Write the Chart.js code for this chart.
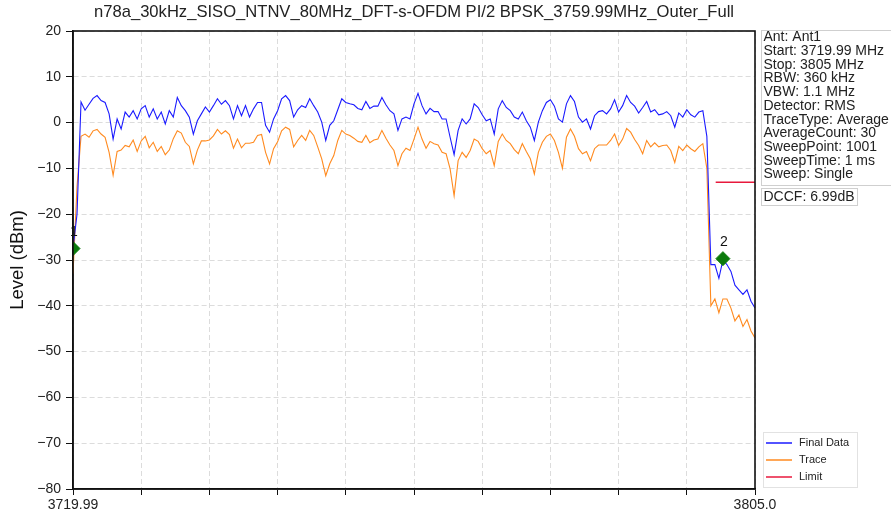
<!DOCTYPE html>
<html>
<head>
<meta charset="utf-8">
<script src="https://cdn.jsdelivr.net/npm/chart.js@4.4.1/dist/chart.umd.min.js"></script>
<style>
  body { margin: 0; background: #fff; }
  canvas { display: block; }
</style>
</head>
<body>
<canvas id="myChart" width="891" height="517"></canvas>
<script>
// sweep settings (MHz)
const freqStart = 3719.99;
const freqStop = 3805.0;

// level readings (dBm), evenly spaced across the sweep
const finalData = [
  -27.5, -20, 4.5, 2.7, 4.0, 5.3, 5.9, 4.8, 4.4, 1.9,
  -3.6, 0.8, -1.4, 2.3, 1.2, 2.6, 0.8, 3.0, 3.7, 1.2,
  3.0, 0.8, 2.3, -0.3, 2.6, 1.2, 5.5, 3.7, 2.6, 1.2,
  -2.5, 0.4, 1.9, 3.4, 2.3, 3.7, 5.2, 4.0, 4.8, 3.7,
  0.8, 3.7, 1.5, 3.7, 1.2, 3.0, 4.4, 4.4, -0.6, -2.1,
  0.8, 2.6, 5.2, 5.9, 4.8, 1.2, 2.8, 3.7, 3.3, 5.2,
  3.7, 2.3, 0.1, -3.9, -0.6, 0.4, 2.8, 5.2, 4.4, 4.1,
  3.9, 3.1, 2.8, 4.6, 3.1, 3.6, 3.6, 5.5, 3.9, 2.6,
  1.9, -1.7, 0.8, 1.2, 0.8, 4.1, 6.4, 3.7, 1.9, 3.1,
  2.4, 2.4, 0.8, 0.8, -3.2, -7.0, -1.7, 0.8, -0.3, 0.8,
  4.1, 3.3, 1.7, 0.4, 0.8, -2.5, 3.0, 4.8, 3.3, 2.6,
  1.2, 0.8, 2.3, 0.4, -1.0, -3.9, 0.1, 2.6, 4.4, 5.0,
  3.6, 0.8, 0.1, 4.1, 5.9, 4.6, 1.2, 0.1, 0.8, -1.4,
  1.5, 2.4, 2.6, 1.9, 3.0, 5.0, 2.3, 3.7, 5.9, 4.4,
  3.6, 2.1, 3.3, 4.6, 2.3, 2.8, 1.7, 1.9, 2.4, 1.5,
  -1.0, 2.1, 1.2, 2.8, 1.7, 1.2, 2.3, 2.6, -3, -31,
  -31, -34, -30, -31, -32.5, -35.5, -36.5, -37.5, -36.5, -39,
  -40.5
];

const traceData = [
  -33, -14, -3.0, -2.5, -3.2, -1.8, -1.5, -2.5, -3.2, -6.5,
  -11.5, -6.3, -6.0, -5.0, -5.3, -3.8, -6.3, -4.0, -3.0, -5.5,
  -4.3, -6.3, -5.2, -7.0, -6.0, -3.5, -1.8, -2.3, -4.3, -5.2,
  -9.0, -6.0, -4.0, -4.0, -3.8, -2.9, -1.5, -2.5, -1.8, -2.6,
  -5.6, -3.6, -5.5, -4.5, -4.5, -4.3, -2.8, -2.6, -6.5, -9.0,
  -5.7, -4.2, -1.8, -1.0, -1.5, -5.3, -3.9, -2.8, -3.9, -1.7,
  -2.8, -5.3, -7.9, -11.6, -9.0, -7.2, -3.9, -1.7, -2.5, -2.8,
  -3.4, -4.1, -4.3, -2.8, -4.4, -3.8, -3.6, -1.7, -3.4, -4.9,
  -6.1, -9.4, -6.8, -5.6, -6.1, -3.6, -1.0, -3.6, -5.6, -4.1,
  -4.6, -4.9, -6.5, -6.8, -10.1, -16.0, -8.3, -6.5, -7.6, -6.1,
  -3.6, -4.1, -5.7, -6.8, -6.1, -9.4, -4.1, -2.5, -3.9, -4.6,
  -5.9, -6.8, -4.6, -6.3, -7.9, -11.2, -6.5, -4.3, -3.0, -2.5,
  -3.9, -6.5, -10.0, -3.2, -1.4, -3.0, -5.7, -6.8, -6.3, -8.3,
  -5.7, -4.9, -4.9, -4.9, -3.9, -2.5, -5.0, -3.6, -1.3, -2.1,
  -3.7, -5.0, -6.8, -3.9, -5.3, -4.4, -5.3, -5.0, -4.9, -6.1,
  -8.7, -5.2, -6.1, -4.9, -5.7, -6.3, -5.3, -4.6, -10, -40,
  -38.5, -41.5, -38.5, -38.5, -40.5, -43.3, -42, -44.5, -43, -45.5,
  -47
];

const limitFreqs = [3800.1, 3805.0];
const limitLevels = [-13, -13];

const markerNames = ['1', '2'];
const markerFreqs = [3719.99, 3801.0];
const markerLevels = [-27.5, -29.7];

const yTicks = [-80, -70, -60, -50, -40, -30, -20, -10, 0, 10, 20];

const infoLines = [
  'Ant: Ant1',
  'Start: 3719.99 MHz',
  'Stop: 3805 MHz',
  'RBW: 360 kHz',
  'VBW: 1.1 MHz',
  'Detector: RMS',
  'TraceType: Average',
  'AverageCount: 30',
  'SweepPoint: 1001',
  'SweepTime: 1 ms',
  'Sweep: Single'
];
const dccfText = 'DCCF: 6.99dB';
const titleText = 'n78a_30kHz_SISO_NTNV_80MHz_DFT-s-OFDM PI/2 BPSK_3759.99MHz_Outer_Full';

const FONT = 'Liberation Sans, Arial, sans-serif';
const BLUE = '#1a1aff';
const ORANGE = '#ff8a1f';
const RED = '#e8193c';
const GREEN = '#0b7a0b';

const step = (freqStop - freqStart) / (finalData.length - 1);
const toPoints = arr => arr.map((v, i) => ({ x: freqStart + i * step, y: v }));

const legendItems = [
  { label: 'Final Data', color: BLUE },
  { label: 'Trace', color: ORANGE },
  { label: 'Limit', color: RED }
];

const extras = {
  id: 'extras',
  afterDraw(chart) {
    const ctx = chart.ctx;
    const a = chart.chartArea;
    ctx.save();

    // frame
    ctx.strokeStyle = '#111';
    ctx.lineWidth = 1.6;
    ctx.strokeRect(a.left, a.top, a.right - a.left, a.bottom - a.top);

    // title
    ctx.fillStyle = '#222';
    ctx.font = '16.6px ' + FONT;
    ctx.textAlign = 'center';
    ctx.textBaseline = 'middle';
    ctx.fillText(titleText, (a.left + a.right) / 2, 12);

    // marker labels
    const xs = chart.scales.x, ys = chart.scales.y;
    ctx.font = '14px ' + FONT;
    ctx.fillStyle = '#111';
    markerNames.forEach((n, i) => {
      const px = xs.getPixelForValue(markerFreqs[i]);
      const py = ys.getPixelForValue(markerLevels[i]);
      ctx.fillText(n, px + 1, py - 16);
    });

    // info box
    ctx.textAlign = 'left';
    ctx.textBaseline = 'middle';
    ctx.font = '14px ' + FONT;
    ctx.strokeStyle = '#cfcfcf';
    ctx.lineWidth = 1;
    ctx.fillStyle = '#fff';
    ctx.fillRect(761.5, 30.5, 135, 155);
    ctx.strokeRect(761.5, 30.5, 135, 155);
    ctx.fillStyle = '#222';
    infoLines.forEach((t, i) => ctx.fillText(t, 763.5, 37.5 + i * 13.7));

    // DCCF box
    const w = ctx.measureText(dccfText).width;
    ctx.strokeRect(761.5, 188.5, w + 5, 17);
    ctx.fillText(dccfText, 763.5, 197.5);

    // legend
    ctx.font = '11px ' + FONT;
    ctx.strokeStyle = '#e2e2e2';
    ctx.strokeRect(763.5, 432.5, 94, 55);
    legendItems.forEach((it, i) => {
      const ly = 443 + i * 17;
      ctx.strokeStyle = it.color;
      ctx.lineWidth = 1.5;
      ctx.beginPath();
      ctx.moveTo(766, ly);
      ctx.lineTo(792, ly);
      ctx.stroke();
      ctx.fillStyle = '#222';
      ctx.fillText(it.label, 799, ly);
    });

    ctx.restore();
  }
};

const ctx = document.getElementById('myChart').getContext('2d');

const myChart = new Chart(ctx, {
  type: 'line',
  data: {
    datasets: [
      {
        label: 'markers',
        type: 'scatter',
        data: markerFreqs.map((f, i) => ({ x: f, y: markerLevels[i] })),
        pointStyle: 'rectRot',
        pointRadius: 7,
        backgroundColor: GREEN,
        borderColor: GREEN,
        showLine: false,
        order: 0
      },
      {
        label: 'Final Data',
        data: toPoints(finalData),
        borderColor: BLUE,
        borderWidth: 1.1,
        pointRadius: 0,
        tension: 0,
        order: 1
      },
      {
        label: 'Trace',
        data: toPoints(traceData),
        borderColor: ORANGE,
        borderWidth: 1.1,
        pointRadius: 0,
        tension: 0,
        order: 2
      },
      {
        label: 'Limit',
        data: limitFreqs.map((f, i) => ({ x: f, y: limitLevels[i] })),
        borderColor: RED,
        borderWidth: 1.5,
        pointRadius: 0,
        order: 3
      }
    ]
  },
  options: {
    responsive: false,
    devicePixelRatio: 1,
    animation: false,
    layout: { padding: { top: 31, right: 136, left: 0, bottom: 0 } },
    plugins: {
      legend: { display: false },
      tooltip: { enabled: false },
      title: { display: false }
    },
    scales: {
      x: {
        type: 'linear',
        min: freqStart,
        max: freqStop,
        afterBuildTicks(scale) {
          const t = [];
          for (let i = 0; i <= 10; i++) t.push({ value: freqStart + i * (freqStop - freqStart) / 10 });
          scale.ticks = t;
        },
        afterFit(scale) { scale.height = 28; },
        ticks: {
          autoSkip: false,
          maxRotation: 0,
          padding: 2,
          color: '#222',
          font: { family: FONT, size: 14 },
          callback(v, i, arr) {
            if (i === 0) return '3719.99';
            if (i === arr.length - 1) return '3805.0';
            return '';
          }
        },
        grid: { color: '#dcdcdc', lineWidth: 1, tickColor: '#111', tickLength: 6 },
        border: { color: '#111', width: 1.6, dash: [5, 3] }
      },
      y: {
        min: -80,
        max: 20,
        afterBuildTicks(scale) { scale.ticks = yTicks.map(v => ({ value: v })); },
        afterFit(scale) { scale.width = 73; },
        title: {
          display: true,
          text: 'Level (dBm)',
          color: '#111',
          font: { family: FONT, size: 18.5 },
          padding: { top: 7, bottom: 0 }
        },
        ticks: {
          padding: 5,
          color: '#222',
          font: { family: FONT, size: 14 },
          callback: v => String(v).replace('-', '\u2212')
        },
        grid: { color: '#dcdcdc', lineWidth: 1, tickColor: '#111', tickLength: 7 },
        border: { color: '#111', width: 1.6, dash: [5, 3] }
      }
    }
  },
  plugins: [extras]
});
</script>
</body>
</html>
